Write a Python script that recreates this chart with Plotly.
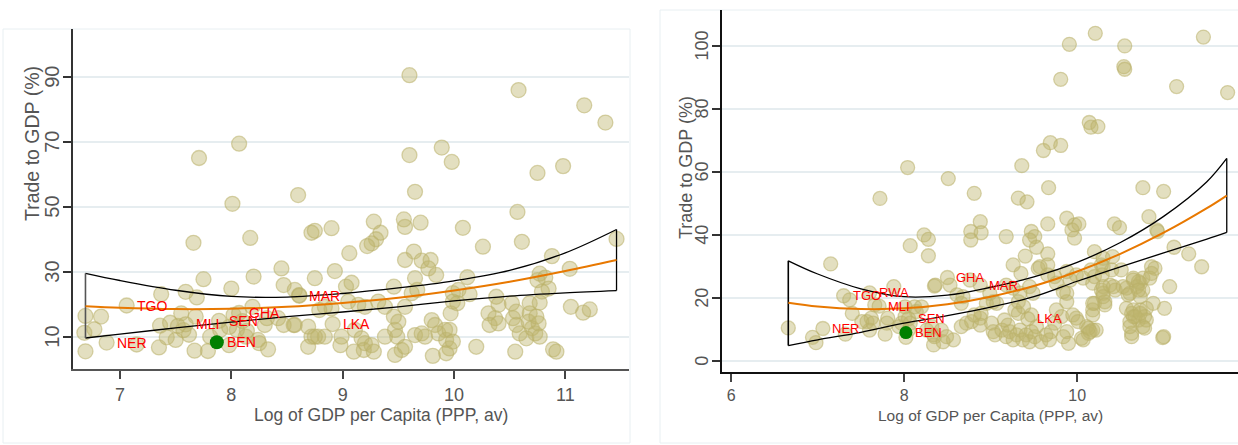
import plotly.graph_objects as go

W, H = 1238, 445

# ---------------- data: left panel ----------------
L_x = [6.69, 6.83, 6.68, 6.77, 6.69, 7.15, 7.35, 7.37, 7.36, 7.42, 7.50, 7.45, 7.55, 7.59, 7.62, 7.66,
       7.69, 7.68, 7.71, 7.75, 7.67, 7.79, 8.01, 8.00, 8.07, 8.17, 8.20, 8.19, 8.05, 8.14, 7.98, 8.24,
       8.25, 8.33, 8.30, 7.81, 7.90, 8.02, 8.13, 7.52, 7.57, 7.98, 8.10,
       8.60, 9.65, 9.28, 9.55, 9.56, 9.70, 8.72, 8.75, 8.90, 9.34, 9.30, 9.26, 9.22, 9.06, 9.64, 9.56,
       9.71, 9.79, 9.77, 9.84, 8.45, 8.93, 8.75, 8.47, 9.08, 9.03, 8.57, 8.61, 9.65, 9.46, 9.62, 9.67,
       9.99, 8.84, 8.90, 9.05, 9.14, 9.20, 9.32, 9.38, 9.56, 8.32, 8.42, 8.57, 8.47, 8.69, 8.72, 8.78,
       8.84, 8.99, 8.98, 9.11, 9.17, 9.20, 9.19, 9.26, 9.28, 9.10, 8.69, 9.38, 9.47, 9.49, 9.50, 9.46,
       9.53, 9.47, 9.56, 9.65, 9.71, 9.74, 9.80, 9.83, 9.86, 9.92, 9.93, 9.81, 9.96, 9.93, 9.97, 9.99,
       8.56, 8.79, 8.75, 9.60, 9.60, 9.89, 9.98,
       10.58, 11.17, 11.36, 10.75, 10.98, 10.57, 10.61, 10.08, 10.26, 11.46, 10.88, 11.04, 10.77, 10.82,
       10.75, 10.85, 11.05, 11.16, 11.22, 10.12, 10.04, 10.14, 10.03, 9.96, 9.99, 10.38, 10.40, 10.31,
       10.37, 10.32, 10.40, 10.52, 10.56, 10.53, 10.56, 10.59, 10.68, 10.67, 10.70, 10.65, 10.73, 10.76,
       10.74, 10.77, 10.68, 10.77, 10.20, 10.55, 10.89, 10.92, 10.79]
L_y = [16.4, 16.2, 11.2, 12.3, 5.5, 7.6, 6.7, 23.1, 13.4, 9.8, 9.0, 14.3, 17.2, 23.8, 10.6, 38.9,
       22.1, 16.2, 65.0, 27.7, 5.7, 5.6, 50.9, 24.8, 69.4, 40.4, 28.5, 19.2, 12.1, 11.8, 7.4, 9.0,
       8.0, 6.1, 13.6, 10.0, 12.1, 16.7, 10.0, 13.3, 12.0, 13.0, 14.8,
       53.6, 54.6, 45.4, 46.1, 43.8, 45.1, 42.0, 42.6, 43.4, 42.0, 40.0, 38.7, 37.9, 35.7, 36.2, 33.6,
       33.4, 33.6, 31.0, 29.0, 31.0, 30.2, 28.0, 25.9, 26.6, 25.4, 24.4, 22.8, 28.0, 25.4, 23.4, 24.4,
       23.4, 19.2, 18.7, 20.8, 19.8, 19.2, 20.8, 19.2, 19.2, 15.7, 15.7, 13.6, 13.6, 13.1, 10.0, 10.0,
       10.0, 10.0, 7.4, 12.1, 9.5, 8.0, 5.9, 7.4, 5.4, 5.4, 6.9, 10.0, 12.1, 10.0, 14.6, 16.2,
       5.9, 4.4, 6.9, 10.5, 11.0, 10.0, 15.1, 13.6, 11.0, 12.1, 9.0, 4.1, 6.4, 4.9, 17.2, 20.8,
       13.6, 18.2, 10.0, 90.5, 65.9, 68.2, 63.8,
       85.9, 81.2, 75.9, 60.4, 62.5, 48.4, 39.2, 43.5, 37.7, 40.1, 34.8, 30.9, 29.4, 28.2,
       27.4, 24.8, 19.2, 17.4, 18.4, 28.3, 24.4, 23.1, 20.3, 12.1, 8.5, 22.3, 19.8, 17.2,
       15.7, 13.6, 14.1, 20.3, 17.7, 15.7, 13.6, 11.0, 17.2, 14.6, 12.6, 9.5, 11.0, 14.1,
       16.2, 10.0, 20.3, 20.5, 6.9, 5.4, 6.1, 5.4, 23.9]

L_lab = ["TGO", "NER", "MLI", "SEN", "GHA", "MAR", "LKA"]
L_lab_x = [7.06, 6.88, 7.59, 7.89, 8.07, 8.61, 8.91]
L_lab_y = [19.6, 8.2, 13.8, 14.9, 17.3, 22.6, 13.9]
L_ben = (7.87, 8.3)

L_fit_x = [6.69, 7.0, 7.5, 8.0, 8.5, 9.0, 9.5, 10.0, 10.5, 11.0, 11.46]
L_fit = [19.4, 18.9, 18.5, 18.6, 19.2, 20.4, 22.0, 24.2, 26.9, 30.2, 33.6]
L_up = [29.5, 27.3, 24.3, 22.4, 22.2, 23.3, 25.0, 27.2, 30.4, 35.8, 43.0]
L_lo = [9.6, 10.8, 12.7, 14.5, 16.2, 17.6, 19.2, 21.0, 22.5, 23.5, 24.2]

L_xticks = [7, 8, 9, 10, 11]
L_yticks = [10, 30, 50, 70, 90]

# ---------------- data: right panel ----------------
R_x = [6.66, 6.94, 6.98, 7.15, 7.37, 7.40, 7.32, 7.66, 7.88, 7.72, 8.04, 8.23, 8.28, 8.07, 8.28,
       8.35, 8.01, 7.57, 7.62, 7.60, 7.64, 7.51, 7.81, 7.80, 7.78, 7.94, 7.97, 8.01, 8.05, 8.02, 8.34,
       8.26, 8.34, 8.07, 8.12, 8.14, 8.20, 8.32, 8.35, 8.43, 8.45, 8.57, 8.49, 8.36, 8.53, 8.61, 8.66,
       8.68, 8.51, 8.81, 8.88, 8.77, 8.89, 8.77, 8.66, 8.72, 8.78, 8.88, 8.88, 8.89, 8.81, 8.76, 8.99,
       9.03, 8.95, 9.07,
       9.01, 9.03, 9.05, 9.13, 9.18, 9.20, 9.22, 9.26, 9.30, 9.34, 9.37, 9.41, 9.45, 9.47, 9.51, 9.53,
       9.58, 9.64, 9.68, 9.70, 9.74, 9.82, 9.84, 9.88, 9.28, 9.32, 9.16, 9.47, 9.76, 9.88,
       9.36, 9.67, 9.32, 9.42, 9.88, 9.66, 9.18, 9.47, 9.51, 9.53, 9.45, 9.40, 9.66, 9.26, 9.35, 9.55,
       9.66, 9.74, 9.34, 9.32, 9.38, 9.26, 9.18, 9.45, 9.49, 9.88, 9.92, 9.99, 10.07, 9.88, 9.76, 9.66,
       9.57,
       9.91, 10.21, 10.55, 10.54, 10.55, 11.46, 9.81, 11.15, 11.74, 10.14, 10.16, 10.24, 9.61, 9.69,
       9.81, 10.76, 11.00, 10.83, 10.92, 10.93, 10.43, 10.49, 9.97, 10.02, 9.94, 9.97,
       10.20, 10.30, 10.41, 10.30, 10.40, 11.12, 11.29, 11.44, 10.86, 10.90, 10.65, 10.73, 10.76, 10.84,
       10.86, 10.76, 10.69, 11.07, 10.61, 10.57, 10.53, 10.88, 11.01, 10.57, 10.65, 10.73, 10.80, 10.78,
       10.65, 10.61, 10.71, 10.76, 10.80, 10.63, 10.99, 11.00, 10.18, 10.11, 10.13, 10.05, 10.22, 9.90,
       9.95, 9.99, 10.01, 10.18, 10.20, 10.30, 10.32, 10.28, 10.38, 10.44, 10.18, 10.20, 10.16, 10.28,
       10.29, 10.51, 10.30, 10.42, 10.30, 10.32, 10.18, 10.18, 10.59, 10.65, 10.71, 10.73, 10.71, 10.63,
       10.67, 10.73, 10.78, 10.63, 10.61, 10.07, 9.84, 10.13, 10.15]
R_y = [10.4, 7.4, 5.7, 30.7, 19.3, 15.0, 8.4, 17.7, 23.5, 51.5, 61.3, 39.9, 38.5, 36.5, 33.3,
       23.7, 17.1, 12.4, 13.5, 9.7, 11.9, 12.4, 13.5, 11.9, 8.4, 10.8, 11.9, 14.0, 9.7, 7.4, 5.0,
       9.7, 8.2, 11.9, 17.1, 15.6, 17.1, 10.8, 7.6, 9.7, 6.0, 6.6, 7.6, 24.0, 24.0, 20.9, 18.2,
       20.3, 57.8, 53.1, 44.1, 41.0, 40.6, 38.3, 10.8, 11.9, 12.4, 11.3, 13.5, 15.0, 14.5, 25.6, 21.4,
       18.7, 18.2, 18.2,
       11.9, 9.2, 8.2, 9.7, 7.6, 11.3, 9.2, 6.6, 8.2, 9.7, 6.6, 8.2, 6.0, 9.2, 7.6, 10.8,
       6.0, 8.2, 6.6, 9.2, 11.9, 14.0, 7.6, 9.2, 16.1, 15.0, 12.9, 14.5, 16.1, 18.7,
       61.9, 54.9, 51.6, 50.4, 45.2, 43.4, 39.4, 41.0, 39.4, 36.0, 38.3, 33.2, 33.9, 30.4, 27.7, 29.3,
       30.4, 26.7, 21.4, 18.7, 17.1, 23.0, 24.0, 23.5, 21.4, 28.3, 25.6, 27.2, 26.2, 21.4, 24.6, 27.2,
       29.8,
       100.4, 103.9, 99.9, 93.3, 92.5, 102.7, 89.3, 87.0, 85.1, 75.6, 74.1, 74.3, 66.7, 69.2,
       68.3, 54.9, 53.7, 45.7, 41.5, 41.0, 43.4, 42.2, 43.1, 43.4, 41.5, 38.9,
       34.6, 32.5, 33.0, 29.8, 28.8, 36.0, 33.9, 29.8, 29.8, 29.3, 26.2, 24.6, 26.2, 26.2,
       27.7, 22.4, 23.5, 23.5, 21.4, 23.0, 23.5, 18.2, 16.6, 16.6, 16.1, 16.1, 16.6, 14.0,
       14.0, 12.4, 12.9, 10.8, 12.9, 8.7, 7.3, 7.6, 9.7, 10.8, 8.7, 7.1, 9.7, 5.5,
       14.5, 13.5, 12.4, 16.1, 18.2, 21.4, 18.7, 22.4, 24.0, 22.4, 24.6, 26.7, 28.8, 30.4,
       27.2, 28.8, 23.5, 23.5, 20.3, 17.7, 18.2, 14.5, 20.9, 25.6, 25.1, 20.3, 22.4, 15.0,
       14.0, 15.0, 10.3, 7.6, 10.8, 6.6, 21.9, 10.3, 9.2]

R_lab = ["TGO", "RWA", "MLI", "NER", "SEN", "GHA", "MAR", "LKA"]
R_lab_x = [7.30, 7.60, 7.71, 7.06, 8.05, 8.50, 8.88, 9.43]
R_lab_y = [20.6, 21.5, 17.3, 10.2, 13.3, 26.4, 24.0, 13.3]
R_ben = (8.02, 8.9)

R_fit_x = [6.66, 7.0, 7.5, 8.0, 8.5, 9.0, 9.5, 10.0, 10.5, 11.0, 11.5, 11.73]
R_fit = [18.4, 17.2, 16.4, 16.6, 17.9, 20.3, 23.7, 28.3, 33.9, 40.6, 48.4, 52.4]
R_up = [31.7, 27.5, 22.8, 20.3, 20.8, 23.3, 26.6, 31.2, 37.5, 45.8, 56.8, 64.2]
R_lo = [4.8, 6.6, 9.0, 11.9, 14.3, 17.0, 20.3, 25.2, 29.8, 34.2, 38.6, 40.7]

R_xticks = [6, 8, 10]
R_yticks = [0, 20, 40, 60, 80, 100]

# ---------------- styling ----------------
MK_FILL = "rgba(190,180,110,0.43)"
MK_LINE = "rgba(185,176,105,0.55)"
ORANGE = "#e87800"
GRID = "#e6edf0"
TXT = "#555555"
FONT = "Liberation Sans, Arial, sans-serif"

fig = go.Figure()


def add_panel(xa, ya, px, py, labx, laby, ben, fx, ff, fu, fl, msize, left_end_color):
    allx = list(px) + list(labx)
    ally = list(py) + list(laby)
    fig.add_trace(go.Scatter(x=allx, y=ally, mode="markers", xaxis=xa, yaxis=ya,
                             marker=dict(size=msize, color=MK_FILL,
                                         line=dict(color=MK_LINE, width=1.3)),
                             hoverinfo="skip", showlegend=False))
    fig.add_trace(go.Scatter(x=[ben[0]], y=[ben[1]], mode="markers", xaxis=xa, yaxis=ya,
                             marker=dict(size=msize - 1, color="#008000"),
                             hoverinfo="skip", showlegend=False))
    for arr in (fu, fl):
        fig.add_trace(go.Scatter(x=fx, y=arr, mode="lines", xaxis=xa, yaxis=ya,
                                 line=dict(color="black", width=1.3, shape="spline", smoothing=1),
                                 hoverinfo="skip", showlegend=False))
    fig.add_trace(go.Scatter(x=[fx[0], fx[0]], y=[fl[0], fu[0]], mode="lines", xaxis=xa, yaxis=ya,
                             line=dict(color=left_end_color, width=1.6),
                             hoverinfo="skip", showlegend=False))
    fig.add_trace(go.Scatter(x=[fx[-1], fx[-1]], y=[fl[-1], fu[-1]], mode="lines", xaxis=xa, yaxis=ya,
                             line=dict(color="black", width=1.3),
                             hoverinfo="skip", showlegend=False))
    fig.add_trace(go.Scatter(x=fx, y=ff, mode="lines", xaxis=xa, yaxis=ya,
                             line=dict(color=ORANGE, width=2, shape="spline", smoothing=1),
                             hoverinfo="skip", showlegend=False))


add_panel("x", "y", L_x, L_y, L_lab_x, L_lab_y, L_ben, L_fit_x, L_fit, L_up, L_lo, 15, "#555555")
add_panel("x2", "y2", R_x, R_y, R_lab_x, R_lab_y, R_ben, R_fit_x, R_fit, R_up, R_lo, 14, "black")

annotations = []
for code, x, y in zip(L_lab + ["BEN"], L_lab_x + [L_ben[0]], L_lab_y + [L_ben[1]]):
    annotations.append(dict(x=x, y=y, xref="x", yref="y", text=code, showarrow=False,
                            xanchor="left", yanchor="middle", xshift=8,
                            font=dict(family=FONT, size=14, color="#ff0000")))
for code, x, y in zip(R_lab + ["BEN"], R_lab_x + [R_ben[0]], R_lab_y + [R_ben[1]]):
    annotations.append(dict(x=x, y=y, xref="x2", yref="y2", text=code, showarrow=False,
                            xanchor="left", yanchor="middle", xshift=7,
                            font=dict(family=FONT, size=13, color="#ff0000")))

# rotated y tick labels (drawn as annotations for exact placement)
for v in L_yticks:
    annotations.append(dict(x=52 / W, y=v, xref="paper", yref="y", text=str(v), textangle=-90,
                            showarrow=False, xanchor="center", yanchor="middle",
                            font=dict(family=FONT, size=20, color=TXT)))
for v in R_yticks:
    annotations.append(dict(x=702 / W, y=v, xref="paper", yref="y2", text=str(v), textangle=-90,
                            showarrow=False, xanchor="center", yanchor="middle",
                            font=dict(family=FONT, size=18, color=TXT)))

# axis titles
annotations += [
    dict(x=380.5 / W, y=1 - 415 / H, xref="paper", yref="paper", text="Log of GDP per Capita (PPP, av)",
         showarrow=False, xanchor="center", yanchor="middle", font=dict(family=FONT, size=17.5, color=TXT)),
    dict(x=990 / W, y=1 - 415 / H, xref="paper", yref="paper", text="Log of GDP per Capita (PPP, av)",
         showarrow=False, xanchor="center", yanchor="middle", font=dict(family=FONT, size=15.5, color=TXT)),
    dict(x=32 / W, y=1 - 144 / H, xref="paper", yref="paper", text="Trade to GDP (%)", textangle=-90,
         showarrow=False, xanchor="center", yanchor="middle", font=dict(family=FONT, size=19.5, color=TXT)),
    dict(x=686 / W, y=1 - 168 / H, xref="paper", yref="paper", text="Trade to GDP (%)", textangle=-90,
         showarrow=False, xanchor="center", yanchor="middle", font=dict(family=FONT, size=18, color=TXT)),
]

shapes = [
    dict(type="rect", xref="paper", yref="paper", x0=3 / W, x1=630 / W, y0=1 - 443 / H, y1=1 - 29 / H,
         line=dict(color="#e8eff2", width=1), layer="below"),
    dict(type="rect", xref="paper", yref="paper", x0=660 / W, x1=1.01, y0=1 - 443 / H, y1=1 - 10 / H,
         line=dict(color="#e8eff2", width=1), layer="below"),
]

common_x = dict(showgrid=False, zeroline=False, showline=True, ticks="outside", ticklen=8,
                tickwidth=1.5, tickcolor="#444", fixedrange=True)
common_y = dict(showgrid=True, gridcolor=GRID, gridwidth=1.5, zeroline=False, showline=True,
                ticks="outside", ticklen=8, tickwidth=1.5, tickcolor="#333", showticklabels=False,
                fixedrange=True)

fig.update_layout(
    width=W, height=H, margin=dict(l=0, r=0, t=0, b=0),
    paper_bgcolor="white", plot_bgcolor="white",
    font=dict(family=FONT, color=TXT),
    xaxis=dict(domain=[73 / W, 629 / W], range=[6.578, 11.572], tickvals=L_xticks,
               linecolor="#555", linewidth=1.8, tickfont=dict(size=18, color=TXT), anchor="y",
               **common_x),
    yaxis=dict(domain=[1 - 369 / H, 1 - 29 / H], range=[0.06, 104.7], tickvals=L_yticks,
               linecolor="#333", linewidth=1.6, anchor="x", **common_y),
    xaxis2=dict(domain=[721.7 / W, 1.0], range=[5.89, 11.86], tickvals=R_xticks,
                linecolor="#111", linewidth=1.5, tickfont=dict(size=16, color=TXT), anchor="y2",
                **common_x),
    yaxis2=dict(domain=[1 - 372 / H, 1 - 10 / H], range=[-3.6, 111.3], tickvals=R_yticks,
                linecolor="#111", linewidth=1.5, anchor="x2", **common_y),
    annotations=annotations, shapes=shapes, showlegend=False,
)

fig.write_html("out.html", config={"displayModeBar": False},
               post_script="document.documentElement.style.margin='0';document.body.style.margin='0';"
                           "document.body.style.overflow='hidden';")
